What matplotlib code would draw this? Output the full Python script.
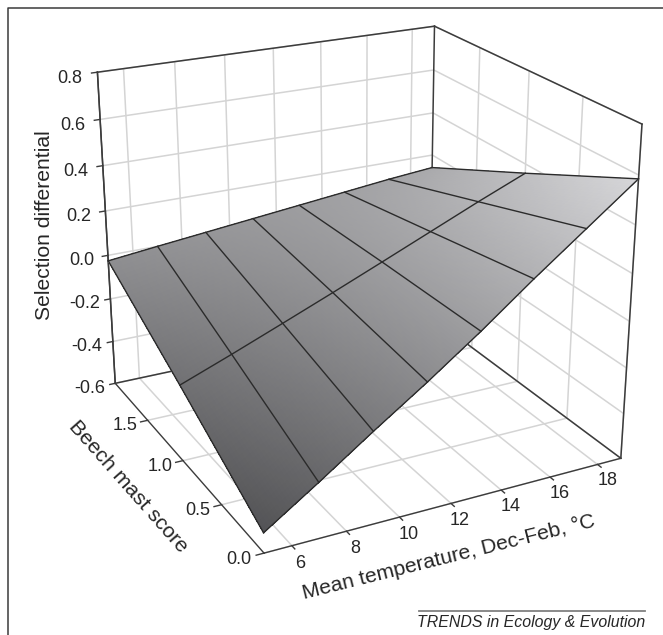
import numpy as np
import matplotlib
matplotlib.use('Agg')
import matplotlib.pyplot as plt
from matplotlib.lines import Line2D

W, H = 663, 635
plt.rcParams['font.family'] = ['Liberation Sans', 'DejaVu Sans']
DARK = '#3c3c3c'
TEXT = '#262626'
GRID = '#d4d4d4'
for a in ('xtick', 'ytick'):
    plt.rcParams[f'{a}.labelsize'] = 13
    plt.rcParams[f'{a}.labelcolor'] = TEXT
    plt.rcParams[f'{a}.color'] = DARK
plt.rcParams['axes.edgecolor'] = DARK

temperature = [5, 7, 9, 11, 13, 15, 17, 19]
mast = [0, 1, 2]
selection = [
    [-0.515, -0.365, -0.21, -0.06, 0.098, 0.265, 0.425, 0.585],
    [-0.265, -0.18, -0.092, -0.003, 0.088, 0.18, 0.272, 0.36],
    [-0.025, 0.0, 0.024, 0.048, 0.072, 0.096, 0.12, 0.14],
]
x_ticks = [6, 8, 10, 12, 14, 16, 18]
y_ticks = [0.0, 0.5, 1.0, 1.5]
z_ticks = [-0.6, -0.4, -0.2, 0.0, 0.2, 0.4, 0.6, 0.8]
x_label = 'Mean temperature, Dec-Feb, °C'
y_label = 'Beech mast score'
z_label = 'Selection differential'
credit = 'TRENDS in Ecology & Evolution'
# grey level of the surface at its four corners: (mast, temperature)
grey_front_left, grey_front_right = 0.33, 0.84
grey_back_left, grey_back_right = 0.56, 0.66

fig = plt.figure(figsize=(W/100, H/100), dpi=100)
ax = fig.add_subplot(projection='3d', computed_zorder=False)
ax.view_init(elev=22.4971, azim=-117.1630)
ax.set_proj_type('persp', focal_length=0.5277)
ax.set_box_aspect((1.1169, 1.1148, 1.0))
ax.set_position([0.0500, 0.0733, 0.9948*H/W, 0.9948])
ax.patch.set_alpha(0)

ax.set_xticks(x_ticks, [str(v) for v in x_ticks])
ax.set_yticks(y_ticks, [f'{v:.1f}' for v in y_ticks])
ax.set_zticks(z_ticks, [f'{v:.1f}' for v in z_ticks])
ax.set_xlim(5, 19, view_margin=0)
ax.set_ylim(0, 2, view_margin=0)
ax.set_zlim(-0.6, 0.8, view_margin=0)

for axis in (ax.xaxis, ax.yaxis, ax.zaxis):
    axis.pane.set_facecolor((1, 1, 1, 0))
    axis.pane.set_edgecolor((1, 1, 1, 0))
    axis._axinfo['grid'].update(color=GRID, linewidth=1.1)
    axis._axinfo['axisline']['color'] = DARK
    axis._axinfo['tick']['linewidth'] = {True: 1.0, False: 0.8}
    axis.line.set_color(DARK)
    axis.line.set_linewidth(1.0)
ax.xaxis._axinfo['tick'].update(outward_factor=0.0, inward_factor=0.2)
ax.yaxis._axinfo['tick'].update(outward_factor=0.0, inward_factor=0.25)
ax.zaxis._axinfo['tick'].update(outward_factor=0.0, inward_factor=0.2)
# tick labels step away from the box along one direction only
ax.xaxis._axmask = lambda: [False, True, False]
ax.yaxis._axmask = lambda: [True, False, False]
ax.tick_params(axis='x', pad=2.5)
ax.tick_params(axis='y', pad=7)
ax.tick_params(axis='z', pad=5)
for tick in ax.yaxis.get_major_ticks():
    tick.label1.set_va('center')

# box edges
edges = [
    ((5, 5), (2, 2), (-0.6, 0.8)),
    ((19, 19), (2, 2), (-0.6, 0.8)),
    ((19, 19), (0, 0), (-0.6, 0.8)),
    ((5, 19), (2, 2), (0.8, 0.8)),
    ((19, 19), (0, 2), (0.8, 0.8)),
    ((5, 19), (2, 2), (-0.6, -0.6)),
    ((19, 19), (0, 2), (-0.6, -0.6)),
]
for ex, ey, ez in edges:
    ax.plot(ex, ey, ez, color=DARK, lw=1.1, zorder=3)

# surface through the nodes, with a smooth shade between its corners
tg = np.array(temperature, float)
mg = np.array(mast, float)
zg = np.array(selection, float)
XS, YS = np.meshgrid(np.linspace(tg[0], tg[-1], 141), np.linspace(mg[0], mg[-1], 61))
rows = np.array([np.interp(XS[0], tg, r) for r in zg])
ZS = np.array([[np.interp(y, mg, rows[:, k]) for k in range(XS.shape[1])] for y in YS[:, 0]])
U = (XS-tg[0])/(tg[-1]-tg[0])
V = (YS-mg[0])/(mg[-1]-mg[0])
GS = ((1-U)*(1-V)*grey_front_left + U*(1-V)*grey_front_right
      + (1-U)*V*grey_back_left + U*V*grey_back_right)
colors = np.dstack([GS, GS, GS+0.01, np.ones_like(GS)]).clip(0, 1)
ax.plot_surface(XS, YS, ZS, rstride=1, cstride=1, facecolors=colors[:-1, :-1],
                shade=False, linewidth=0, antialiased=False, zorder=5)

# mesh lines of the surface
for j, t in enumerate(temperature):
    ax.plot([t]*len(mast), mast, zg[:, j], color='#2b2b2b', lw=1.0, zorder=6)
for i, m in enumerate(mast):
    ax.plot(temperature, [m]*len(temperature), zg[i], color='#2b2b2b', lw=1.0, zorder=6)

def ptext(x, y, s, **kw):
    fig.text(x/W, 1-y/H, s, color=TEXT, ha='center', va='center',
             rotation_mode='anchor', **kw)

ptext(45, 225, z_label, fontsize=15.2, rotation=90)
ptext(128, 487, y_label, fontsize=15.2, rotation=-48.5)
ptext(449, 557, x_label, fontsize=15.2, rotation=14)

# outer frame and credit
fig.add_artist(Line2D([8/W, 8/W, 663/W], [0, 1-8/H, 1-8/H], color='#3a3a3a', lw=1.1,
                      transform=fig.transFigure))
fig.add_artist(Line2D([419/W, 645/W], [1-610.5/H, 1-610.5/H], color='#808080', lw=1.3,
                      transform=fig.transFigure))
fig.text(645/W, 1-622/H, credit, fontsize=11.4, style='italic', color=TEXT, ha='right', va='center')

fig.savefig('out.png', dpi=100)
